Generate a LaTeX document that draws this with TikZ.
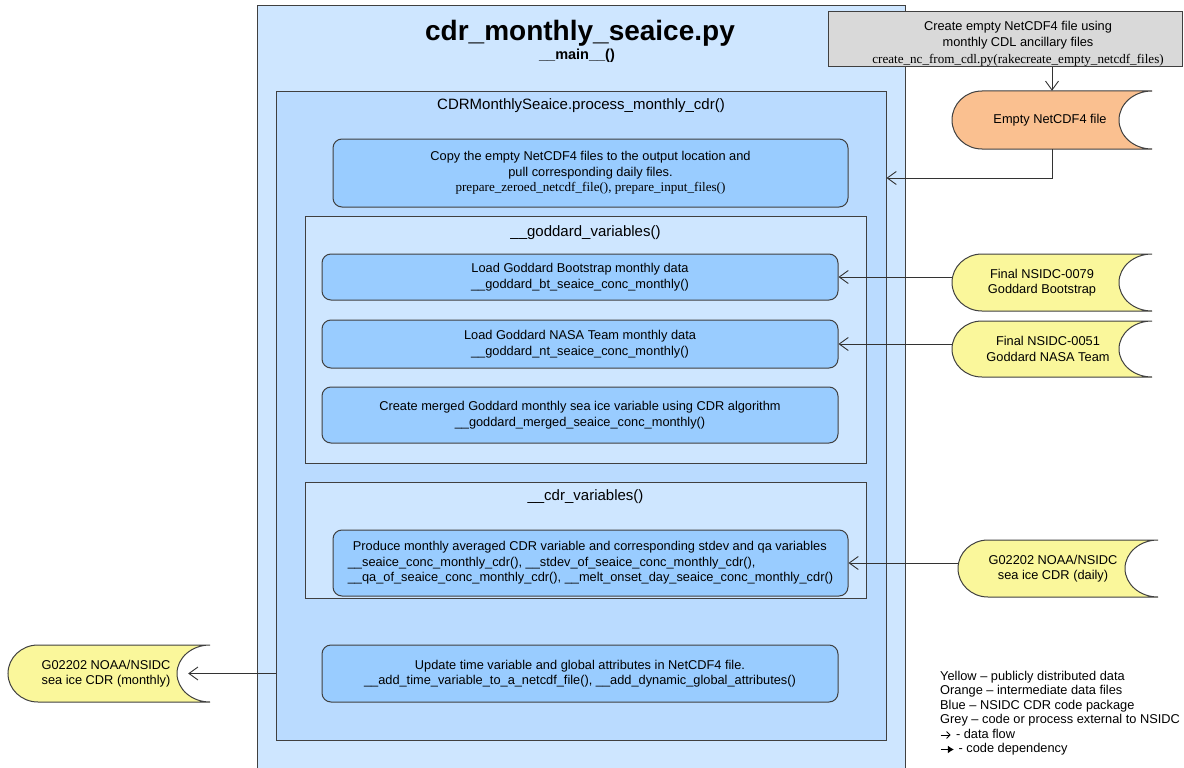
\documentclass[tikz,border=0pt]{standalone}
\usepackage{fontspec}
\setmainfont{Liberation Sans}
\newfontfamily\codeserif{Liberation Serif}
\usetikzlibrary{arrows.meta}

\definecolor{outerblue}{RGB}{206,230,255}
\definecolor{procblue}{RGB}{186,219,255}
\definecolor{groupblue}{RGB}{206,230,255}
\definecolor{taskblue}{RGB}{153,204,255}
\definecolor{greyext}{RGB}{217,217,217}
\definecolor{orangefile}{RGB}{250,192,144}
\definecolor{yellowfile}{RGB}{250,247,155}
\definecolor{edge}{RGB}{64,64,64}

\newcommand\codetext{\codeserif\fontsize{13.1}{15.5}\selectfont}

\tikzset{
  every node/.style={font=\fontsize{12.8}{15.5}\selectfont, text=black},
  frame/.style={draw=edge, line width=1pt, rectangle, inner sep=0pt},
  task/.style={draw=edge, line width=1pt, fill=taskblue, rounded corners=9pt, align=center, inner sep=0pt},
  caption/.style={font=\fontsize{15}{17}\selectfont},
  flow/.style={draw=black!80, line width=0.9pt,
    -{Straight Barb[length=9pt,width=13pt,line width=0.9pt]}},
  filebody/.style={draw=edge, line width=1pt},
}

% stored-data shape: round left end, concave right end
% #1 name, #2 centre x, #3 centre y, #4 half width, #5 half height,
% #6 fill, #7 text centre x, #8 text
\newcommand\storedfile[8]{%
  \path[filebody, fill=#6] (#2+#4,#3-#5) -- (#2-#4+30,#3-#5)
    arc[start angle=90, end angle=270, x radius=30pt, y radius=#5pt]
    -- (#2+#4,#3+#5)
    arc[start angle=270, end angle=90, x radius=33pt, y radius=#5pt]
    -- cycle;
  \node[inner sep=0pt, minimum width=2*#4pt, minimum height=2*#5pt] (#1) at (#2,#3) {};
  \node[align=center] (#1-text) at (#7,#3) {#8};
}

\begin{document}
\begin{tikzpicture}[x=1pt,y=-1pt]
\useasboundingbox (0,0) rectangle (1184,768);

% script frame
\node[frame, fill=outerblue, minimum width=648pt, minimum height=790pt] (script) at (581,401) {};
\node[font=\fontsize{28}{30}\selectfont\bfseries] (title) at (580,33) {cdr\_monthly\_seaice.py};
\node[font=\fontsize{14.5}{16}\selectfont\bfseries] (entry) at (577,56) {\_\_main\_\_()};

% processing class frame
\node[frame, fill=procblue, minimum width=610pt, minimum height=648pt] (proc) at (581,416) {};
\node[caption] (proctitle) at (581,106) {CDRMonthlySeaice.process\_monthly\_cdr()};

\node[task, minimum width=515pt, minimum height=68pt] (copy) at (590.5,173)
  {Copy the empty NetCDF4 files to the output location and\\
   pull corresponding daily files.\\
   {\codetext prepare\_zeroed\_netcdf\_file(), prepare\_input\_files()}};

% goddard group
\node[frame, fill=groupblue, minimum width=561pt, minimum height=247pt] (godd) at (585.5,339.5) {};
\node[caption] (goddtitle) at (585.5,233) {\_\_goddard\_variables()};
\node[task, minimum width=516pt, minimum height=46pt] (bt) at (580,277)
  {Load Goddard Bootstrap monthly data\\\_\_goddard\_bt\_seaice\_conc\_monthly()};
\node[task, minimum width=516pt, minimum height=48pt] (nt) at (580,344)
  {Load Goddard NASA Team monthly data\\\_\_goddard\_nt\_seaice\_conc\_monthly()};
\node[task, minimum width=516pt, minimum height=56pt] (merge) at (580,415)
  {Create merged Goddard monthly sea ice variable using CDR algorithm\\\_\_goddard\_merged\_seaice\_conc\_monthly()};

% cdr group
\node[frame, fill=groupblue, minimum width=561pt, minimum height=116pt] (cdrv) at (585.5,540) {};
\node[caption] (cdrvtitle) at (585.5,497) {\_\_cdr\_variables()};
\node[task, minimum width=515pt, minimum height=66pt, align=left] (prod) at (590.5,563)
  {\hspace*{5pt}Produce monthly averaged CDR variable and corresponding stdev and qa variables\\
   \_\_seaice\_conc\_monthly\_cdr(), \_\_stdev\_of\_seaice\_conc\_monthly\_cdr(),\\
   \_\_qa\_of\_seaice\_conc\_monthly\_cdr(), \_\_melt\_onset\_day\_seaice\_conc\_monthly\_cdr()};

\node[task, minimum width=516pt, minimum height=57pt] (upd) at (580,673.5)
  {Update time variable and global attributes in NetCDF4 file.\\
   \_\_add\_time\_variable\_to\_a\_netcdf\_file(), \_\_add\_dynamic\_global\_attributes()};

% external process
\node[frame, fill=greyext, minimum width=354pt, minimum height=55pt] (cdl) at (1005,39.5) {};
\node[align=center, font=\fontsize{12.8}{16.5}\selectfont] (cdltext) at (1018,43.5)
  {Create empty NetCDF4 file using\\monthly CDL ancillary files\\
   {\codetext create\_nc\_from\_cdl.py(rakecreate\_empty\_netcdf\_files)}};

% data files
\storedfile{empty}{1052}{120}{100}{29}{orangefile}{1050}{Empty NetCDF4 file}
\storedfile{btsrc}{1052}{282.5}{100}{28.5}{yellowfile}{1042}{Final NSIDC-0079\\Goddard Bootstrap}
\storedfile{ntsrc}{1052}{349}{100}{28}{yellowfile}{1048}{Final NSIDC-0051\\Goddard NASA Team}
\storedfile{daily}{1058}{568.5}{100}{28.5}{yellowfile}{1053}{G02202 NOAA/NSIDC\\sea ice CDR (daily)}
\storedfile{monthly}{109}{673.5}{101}{28.5}{yellowfile}{106}{G02202 NOAA/NSIDC\\sea ice CDR (monthly)}

% data flow
\draw[flow] (cdl.south -| empty.north) -- (empty.north);
\draw[flow] (empty.south) |- ([yshift=-5pt]proc.east |- copy.east);
\draw[flow] (bt.east -| btsrc.west) -- (bt.east);
\draw[flow] (nt.east -| ntsrc.west) -- (nt.east);
\draw[flow] (prod.east -| daily.west) -- (prod.east);
\draw[flow] (proc.west |- monthly.east) -- ([xshift=-22pt]monthly.east);

% legend
\node[anchor=north west, align=left, inner sep=0pt, font=\fontsize{12.8}{14.5}\selectfont] (legend) at (940,671)
  {Yellow – publicly distributed data\\
   Orange – intermediate data files\\
   Blue – NSIDC CDR code package\\
   Grey – code or process external to NSIDC\\
   \tikz[baseline=-3.5pt]\draw[line width=0.8pt, -{Straight Barb[length=3.5pt,width=7pt,line width=0.8pt]}] (0pt,0pt) -- (10pt,0pt);\hspace{5pt}- data flow\\
   \tikz[baseline=-3.5pt]\draw[line width=1.4pt, -{Latex[length=6pt,width=8pt]}] (0pt,0pt) -- (13pt,0pt);\hspace{4pt}- code dependency};
\end{tikzpicture}
\end{document}
